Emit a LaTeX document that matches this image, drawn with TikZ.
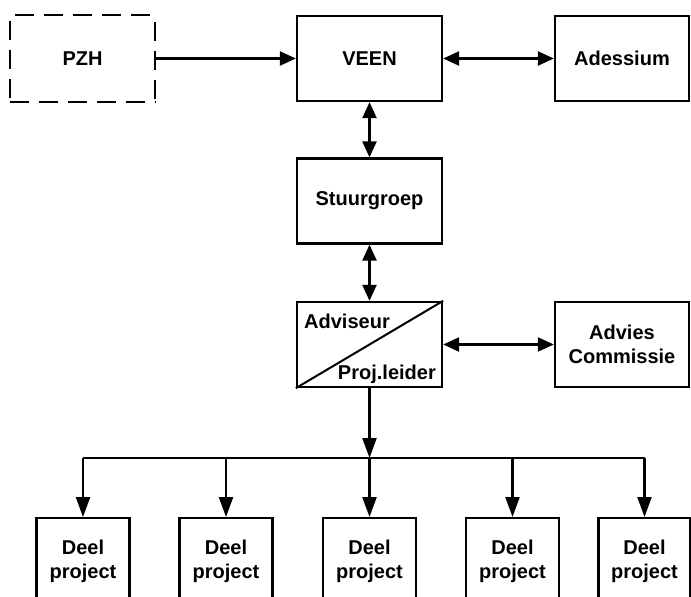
\documentclass[tikz,border=0pt]{standalone}
\usepackage{fontspec}
\setmainfont{Liberation Sans}
\usetikzlibrary{arrows.meta}
\begin{document}
\begin{tikzpicture}[x=1pt,y=-1pt,
  >={Triangle[length=16pt,width=14pt]},
  lbl/.style={font=\fontsize{20}{24}\selectfont\bfseries, align=center},
  box/.style={draw, line width=2.3pt, minimum width=145pt, minimum height=85pt, inner sep=0pt, lbl},
  nbox/.style={box, minimum width=134pt},
  dbox/.style={box, minimum width=93pt, minimum height=87pt, anchor=north},
  dashbox/.style={box, draw=none, minimum width=143pt},
  dashside/.style={line width=2.3pt, dash pattern=on 19pt off 10pt},
  conn/.style={line width=2.3pt},
  tip/.style={->, >={Triangle[length=20pt,width=14pt]}}]
\useasboundingbox (0,0) rectangle (691,597);
\clip (0,0) rectangle (691,597);
\node[dashbox] (pzh) at (82.5,58.5) {PZH};
\draw[dashside, dash phase=24pt] (pzh.north west) -- (pzh.north east);
\draw[dashside, dash phase=23pt] (pzh.north west) -- (pzh.south west);
\draw[dashside, dash phase=22pt] (pzh.north east) -- (pzh.south east);
\draw[dashside, dash phase=0pt] (pzh.south west) -- (pzh.south east);
\node[box] (veen) at (369.5,58.5) {VEEN};
\node[nbox] (ades) at (622,58.5) {Adessium};
\node[box] (stuur) at (369.5,201) {Stuurgroep};
\node[box] (adv) at (369.5,344.5) {};
\draw[line width=2pt] (adv.south west) -- (adv.north east);
\node[lbl, anchor=base west, inner sep=0pt] (advt) at (304,328) {Adviseur};
\node[lbl, anchor=base east, inner sep=0pt] (plt) at (436,379) {Proj.leider};
\node[nbox] (comm) at (622,344.5) {Advies\\Commissie};
\node[dbox] (d1) at (83,517) {Deel\\project};
\node[dbox] (d2) at (226,517) {Deel\\project};
\node[dbox] (d3) at (369.5,517) {Deel\\project};
\node[dbox] (d4) at (512.5,517) {Deel\\project};
\node[dbox, minimum width=92pt] (d5) at (644.5,517) {Deel\\project};
\coordinate (b1) at (83,458);
\coordinate (b2) at (226,458);
\coordinate (b3) at (369.5,458);
\coordinate (b4) at (512.5,458);
\coordinate (b5) at (644.5,458);
\draw[conn,->] (pzh.east) -- (veen.west);
\draw[conn,<->] (veen.east) -- (ades.west);
\draw[conn,<->] (veen.south) -- (stuur.north);
\draw[conn,<->] (stuur.south) -- (adv.north);
\draw[conn,<->] (adv.east) -- (comm.west);
\draw[conn,tip] (adv.south) -- (b3);
\draw[conn] (b1) -- (b5);
\draw[conn,tip] (b1) -- (d1.north);
\draw[conn,tip] (b2) -- (d2.north);
\draw[conn,tip] (b3) -- (d3.north);
\draw[conn,tip] (b4) -- (d4.north);
\draw[conn,tip] (b5) -- (d5.north);
\end{tikzpicture}
\end{document}
